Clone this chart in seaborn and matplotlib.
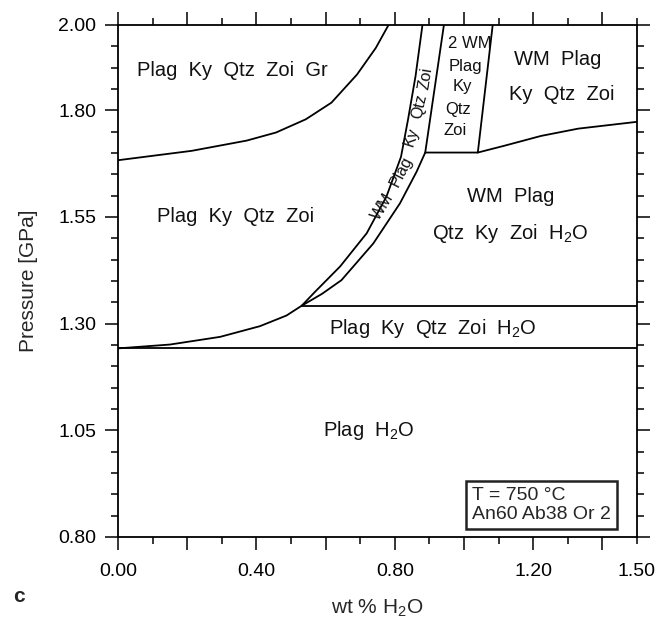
import matplotlib
matplotlib.use("Agg")
import matplotlib.pyplot as plt
import seaborn as sns

# phase boundaries (wt % H2O vs pressure in GPa)
gr_x = [0.0, 0.213, 0.372, 0.457, 0.543, 0.617, 0.691, 0.745, 0.782]
gr_p = [1.683, 1.705, 1.729, 1.748, 1.779, 1.818, 1.884, 1.946, 2.0]

low_x = [0.0, 0.150, 0.295, 0.410, 0.487, 0.531]
low_p = [1.242, 1.251, 1.269, 1.294, 1.319, 1.342]

wm_left_x = [0.531, 0.570, 0.603, 0.642, 0.719, 0.776, 0.818, 0.838, 0.860, 0.880]
wm_left_p = [1.342, 1.375, 1.402, 1.434, 1.512, 1.598, 1.691, 1.777, 1.880, 2.0]

wm_right_x = [0.531, 0.590, 0.646, 0.738, 0.815, 0.863, 0.888, 0.942]
wm_right_p = [1.342, 1.370, 1.402, 1.488, 1.582, 1.656, 1.701, 2.0]

wm2_right_x = [1.040, 1.083]
wm2_right_p = [1.701, 2.0]

step_x = [0.888, 1.040, 1.117, 1.223, 1.330, 1.5]
step_p = [1.701, 1.701, 1.717, 1.740, 1.757, 1.773]

h2o_x = [0.0, 1.5]
h2o_p = [1.242, 1.242]

zoi_x = [0.531, 1.5]
zoi_p = [1.342, 1.342]

boundaries = [(gr_x, gr_p), (low_x, low_p), (wm_left_x, wm_left_p),
              (wm_right_x, wm_right_p), (wm2_right_x, wm2_right_p),
              (step_x, step_p), (h2o_x, h2o_p), (zoi_x, zoi_p)]

# field labels: text, x, p
field_text = ["Plag  Ky  Qtz  Zoi  Gr", "Plag  Ky  Qtz  Zoi", "WM  Plag",
              "Qtz  Ky  Zoi  H$_2$O", "WM  Plag", "Ky  Qtz  Zoi",
              "Plag  Ky  Qtz  Zoi  H$_2$O", "Plag  H$_2$O"]
field_x = [0.33, 0.34, 1.135, 1.133, 1.271, 1.282, 0.91, 0.725]
field_p = [1.894, 1.55, 1.598, 1.512, 1.919, 1.837, 1.289, 1.05]

# two white mica column
col_text = ["2 WM", "Plag", "Ky", "Qtz", "Zoi"]
col_x = [1.016, 1.005, 0.995, 0.984, 0.973]
col_p = [1.957, 1.903, 1.855, 1.802, 1.752]

# rotated words inside the thin band
band_text = ["WM", "Plag", "Ky", "Qtz", "Zoi"]
band_x = [0.764, 0.820, 0.848, 0.870, 0.890]
band_p = [1.574, 1.656, 1.738, 1.809, 1.875]
band_rot = [58, 63, 72, 78, 81]

x_major = [0.0, 0.2, 0.4, 0.6, 0.8, 1.0, 1.2, 1.4]
x_major_labels = ["0.00", "", "0.40", "", "0.80", "", "1.20", ""]
x_minor = [0.1, 0.3, 0.5, 0.7, 0.9, 1.1, 1.3, 1.5]
x_minor_labels = ["", "", "", "", "", "", "", "1.50"]
p_major = [0.80, 1.05, 1.30, 1.55, 1.80, 2.00]
p_major_labels = ["0.80", "1.05", "1.30", "1.55", "1.80", "2.00"]
p_minor = [0.85, 0.90, 0.95, 1.00, 1.10, 1.15, 1.20, 1.25, 1.35, 1.40,
           1.45, 1.50, 1.60, 1.65, 1.70, 1.75, 1.85, 1.90, 1.95]

sns.set_theme(style="ticks")
plt.rcParams["font.family"] = ["Liberation Sans", "DejaVu Sans"]
plt.rcParams["mathtext.fontset"] = "custom"
plt.rcParams["mathtext.rm"] = "Liberation Sans"
plt.rcParams["mathtext.it"] = "Liberation Sans"

fig = plt.figure(figsize=(6.7, 6.18), dpi=100)
ax = fig.add_axes([0.1761, 0.1311, 0.7746, 0.8285])

for bx, bp in boundaries:
    sns.lineplot(x=bx, y=bp, ax=ax, color="black", linewidth=1.3,
                 sort=False, estimator=None)

for t, x, p in zip(field_text, field_x, field_p):
    ax.text(x, p, t, fontsize=14.5, ha="center", va="center", color="#111111")
for t, x, p in zip(col_text, col_x, col_p):
    ax.text(x, p, t, fontsize=12, ha="center", va="center", color="#111111")
for t, x, p, r in zip(band_text, band_x, band_p, band_rot):
    ax.text(x, p, t, fontsize=11.5, ha="center", va="center", rotation=r,
            rotation_mode="anchor", color="#111111")

ax.text(1.023, 0.875, "T = 750 °C\nAn60 Ab38 Or 2", fontsize=14,
        ha="left", va="center", linespacing=1.15,
        bbox=dict(boxstyle="square,pad=0.3", fc="white", ec="#222222", lw=1.8))

ax.set_xlim(0, 1.5)
ax.set_ylim(0.8, 2.0)
ax.set_xticks(x_major, x_major_labels)
ax.set_xticks(x_minor, x_minor_labels, minor=True)
ax.set_yticks(p_major, p_major_labels)
ax.set_yticks(p_minor, minor=True)
ax.tick_params(which="both", direction="out", top=True, right=True,
               labelsize=14, width=1.1, color="black", labelcolor="black")
ax.tick_params(which="major", length=9.5, pad=6)
ax.tick_params(which="minor", length=5, pad=6)
ax.tick_params(axis="x", which="major", pad=9)
ax.tick_params(axis="x", which="minor", pad=13.5)
for s in ax.spines.values():
    s.set_linewidth(1.3)
    s.set_color("black")

ax.set_xlabel("wt % H$_2$O", fontsize=15, labelpad=13)
ax.set_ylabel("Pressure [GPa]", fontsize=15, labelpad=15)
fig.text(0.02, 0.026, "c", fontsize=15, fontweight="bold")

plt.savefig("out.png", dpi=100)
